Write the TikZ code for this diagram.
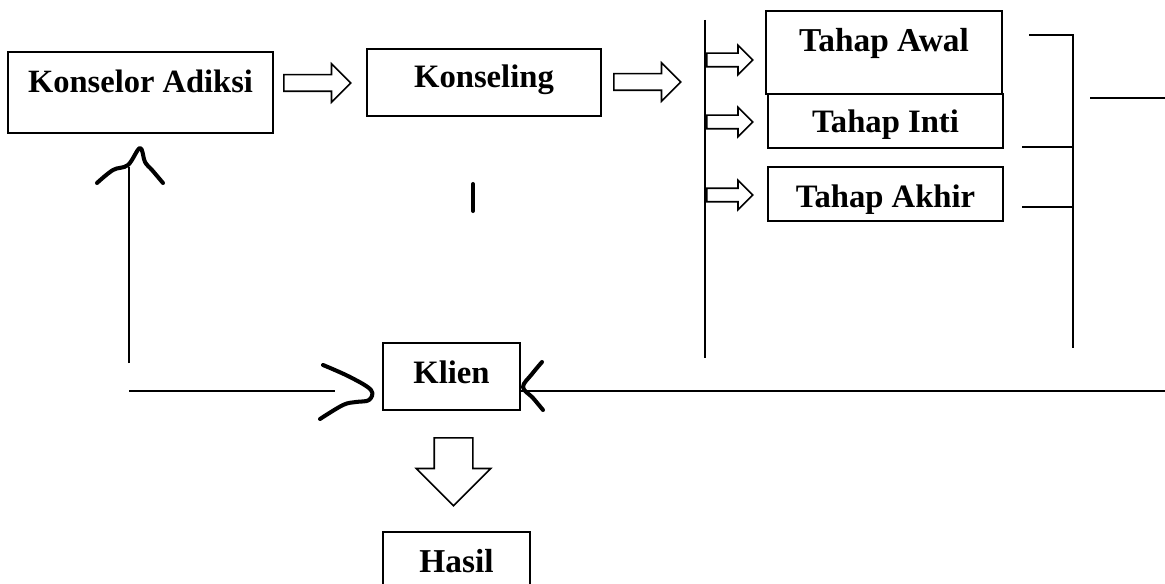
\documentclass[tikz,border=0pt]{standalone}
\usepackage{fontspec}
\setmainfont{Liberation Serif}
\usetikzlibrary{shapes.arrows}

\begin{document}
\begin{tikzpicture}[
    x=0.02cm, y=-0.02cm,
    every node/.style={font=\fontsize{19}{22}\selectfont\bfseries},
    fs/.style={font=\fontsize{#1}{22}\selectfont\bfseries},
    box/.style={draw, line width=1.1pt, inner sep=0pt, anchor=base},
    fat/.style={single arrow, draw, line width=0.9pt, single arrow head indent=0pt, anchor=tail},
    bigfat/.style={fat, inner sep=1.5mm, minimum height=13.4mm, single arrow head extend=2.2mm},
    smallfat/.style={fat, inner sep=1.2mm, minimum height=9.2mm, single arrow head extend=1.6mm},
    thin/.style={line width=0.6pt},
    scribble/.style={line width=2.3pt, line cap=round, line join=round}
]
\useasboundingbox (0,0) rectangle (1165,584);

% === BOXES ===

% Konselor Adiksi at upper left
\node[box, fs=18.5, minimum width=53mm, text height=8.2mm, text depth=8mm] (adiksi) at (140.5,93) {Konselor Adiksi};

% Konseling in the middle
\node[box, fs=18.6, minimum width=46.8mm, text height=7.8mm, text depth=5.6mm] (konseling) at (484,88) {Konseling};

% the three stages on the right
\node[box, minimum width=47.2mm, text height=8.2mm, text depth=8.4mm] (awal) at (884,52) {Tahap Awal};
\node[box, fs=18.6, minimum width=47mm, text height=7.8mm, text depth=3mm] (inti) at (885.5,133) {Tahap Inti};
\node[box, fs=18.6, minimum width=47mm, text height=8mm, text depth=2.8mm] (akhir) at (885.5,207) {Tahap Akhir};

% Klien and Hasil at the bottom
\node[box, fs=18.6, minimum width=27.4mm, text height=8mm, text depth=5.4mm] (klien) at (451.5,383) {Klien};
\node[box, minimum width=29.4mm, text height=8mm, text depth=5.6mm] (hasil) at (456.5,572) {Hasil};

% === BLOCK ARROWS ===

% Konselor Adiksi => Konseling => stages
\node[bigfat] (go1) at (283,83) {};
\node[bigfat] (go2) at (613,82) {};

% one small arrow for each stage
\node[smallfat] (toawal) at (706,60) {};
\node[smallfat] (tointi) at (706,122) {};
\node[smallfat] (toakhir) at (706,195) {};

% Klien => Hasil
\node[fat, inner sep=3.7mm, minimum height=13.6mm, single arrow head extend=3.6mm, shape border rotate=270] (down) at (453.5,437) {};

% === LINES ===

% stem left of the stages
\coordinate (stemtop) at (705,20);
\coordinate (stembot) at (705,358);
\draw[thin] (stemtop) -- (stembot);

% bracket right of the stages
\coordinate (brawal) at (1029,35);
\coordinate (brinti) at (1022,147);
\coordinate (brakhir) at (1022,207);
\coordinate (brbot) at (1073,348);
\draw[thin] (brawal) -| (brbot);
\draw[thin] (brinti) -- (brinti -| brbot);
\draw[thin] (brakhir) -- (brakhir -| brbot);

% lone line at the right edge
\coordinate (lonea) at (1090,98);
\coordinate (loneb) at (1165,98);
\draw[thin] (lonea) -- (loneb);

% back from Klien to Konselor Adiksi
\coordinate (backtop) at (129,167);
\coordinate (backbot) at (129,363);
\coordinate (inleft) at (129,391);
\coordinate (inleftend) at (335,391);
\draw[thin] (backbot) -- (backtop);
\draw[thin] (inleft) -- (inleftend);

% from the right into Klien
\coordinate (inright) at (521,391);
\coordinate (inrightend) at (1165,391);
\draw[thin] (inrightend) -- (inright);

% === HAND-DRAWN MARKS ===

% caret under Konselor Adiksi
\draw[scribble] plot[smooth, tension=0.6] coordinates {(97,183) (113,170) (128,165) (140,148) (145,162) (152,170) (163,183)};

% mark left of Klien
\draw[scribble] plot[smooth, tension=0.6] coordinates {(323,365) (350,377) (371,390) (369,400) (356,402) (343,405) (320,419)};

% mark right of Klien
\draw[scribble] plot[smooth, tension=0.6] coordinates {(542,362) (532,374) (523,387) (533,398) (543,410)};

% stroke under Konseling
\draw[scribble] (473,184) -- (473,211);

\end{tikzpicture}
\end{document}
